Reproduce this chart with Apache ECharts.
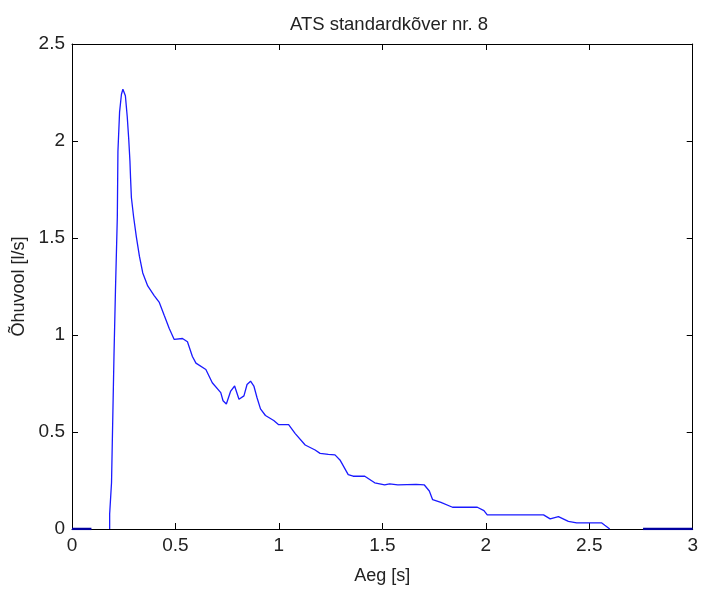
<!DOCTYPE html>
<html>
<head>
<meta charset="utf-8">
<script src="https://cdn.jsdelivr.net/npm/echarts@6/dist/echarts.min.js"></script>
<style>html,body{margin:0;padding:0;background:#fff;overflow:hidden}#c{width:701px;height:590px}</style>
</head>
<body>
<div id="c"></div>
<script>
var titleText = 'ATS standardkõver nr. 8';
var xName = 'Aeg [s]';
var yName = 'Õhuvool [l/s]';
var xTicks = [0, 0.5, 1, 1.5, 2, 2.5, 3];
var yTicks = [0, 0.5, 1, 1.5, 2, 2.5];

var flowTime = [0.182,0.182,0.191,0.203,0.210,0.219,0.222,0.230,0.239,0.246,0.258,0.267,0.274,0.280,0.283,0.287,0.298,0.311,0.326,0.342,0.366,0.398,0.422,0.446,0.470,0.494,0.534,0.558,0.582,0.599,0.606,0.647,0.678,0.719,0.730,0.746,0.767,0.786,0.807,0.831,0.846,0.863,0.879,0.894,0.911,0.935,0.975,0.999,1.047,1.079,1.127,1.175,1.199,1.239,1.271,1.295,1.335,1.359,1.415,1.463,1.511,1.535,1.575,1.663,1.703,1.727,1.743,1.783,1.839,1.959,1.991,2.007,2.279,2.311,2.351,2.399,2.439,2.559,2.575,2.599];
var flowValue = [0,0.078,0.238,0.898,1.227,1.607,1.947,2.150,2.241,2.267,2.233,2.125,2.013,1.897,1.810,1.709,1.607,1.506,1.405,1.320,1.253,1.202,1.168,1.100,1.034,0.977,0.982,0.965,0.889,0.855,0.847,0.822,0.754,0.703,0.661,0.644,0.711,0.737,0.669,0.686,0.745,0.762,0.737,0.678,0.619,0.585,0.559,0.538,0.538,0.492,0.433,0.407,0.390,0.385,0.382,0.356,0.280,0.272,0.272,0.238,0.227,0.233,0.227,0.230,0.227,0.196,0.151,0.137,0.112,0.112,0.095,0.073,0.073,0.052,0.064,0.039,0.032,0.032,0.019,0];

var startTime = [0, 0.094];
var startValue = [0, 0];
var endTime = [2.76, 3];
var endValue = [0, 0];

function pairs(xs, ys){ return xs.map(function(x,i){ return [x, ys[i]]; }); }

var FONT = 'Liberation Sans, Arial, sans-serif';
function xAx(pos, labels){
  return {type:'value', position:pos, min:0, max:3, interval:0.5,
    axisLine:{show:true, onZero:false, lineStyle:{color:'#000', width:1}},
    axisTick:{show:true, inside:true, length:6, lineStyle:{color:'#000'}},
    splitLine:{show:false},
    axisLabel:{show:labels, margin:7, color:'#222', fontSize:19, fontFamily:FONT,
      formatter:function(v){ return xTicks.indexOf(v) >= 0 ? String(v) : ''; }},
    name: labels ? xName : '', nameLocation:'middle', nameGap:38,
    nameTextStyle:{color:'#222', fontSize:18, fontFamily:FONT}
  };
}
function yAx(pos, labels){
  return {type:'value', position:pos, min:0, max:2.5, interval:0.5,
    axisLine:{show:true, onZero:false, lineStyle:{color:'#000', width:1}},
    axisTick:{show:true, inside:true, length:6, lineStyle:{color:'#000'}},
    splitLine:{show:false},
    axisLabel:{show:labels, margin:7, color:'#222', fontSize:19, fontFamily:FONT,
      formatter:function(v){ return yTicks.indexOf(v) >= 0 ? String(v) : ''; }},
    name: labels ? yName : '', nameLocation:'middle', nameGap:44,
    nameTextStyle:{color:'#222', fontSize:18, fontFamily:FONT}
  };
}

var chart = echarts.init(document.getElementById('c'), null, {renderer:'canvas'});
chart.setOption({
  animation:false,
  backgroundColor:'#fff',
  title:{text:titleText, left:384, top:10, textAlign:'center',
    textStyle:{color:'#222', fontSize:18.5, fontWeight:'normal', fontFamily:FONT}},
  grid:{left:72, right:4, top:44, bottom:53, containLabel:false},
  xAxis:[xAx('bottom', true), xAx('top', false)],
  yAxis:[yAx('left', true), yAx('right', false)],
  series:[
    {type:'line', data:pairs(flowTime, flowValue), showSymbol:false, smooth:false,
      lineStyle:{color:'#1a1aff', width:1.3}, z:5},
    {type:'line', data:pairs(startTime, startValue), showSymbol:false,
      lineStyle:{color:'#0000a0', width:2.5}, z:6},
    {type:'line', data:pairs(endTime, endValue), showSymbol:false,
      lineStyle:{color:'#0000a0', width:2.5}, z:6}
  ]
});
</script>
</body>
</html>
